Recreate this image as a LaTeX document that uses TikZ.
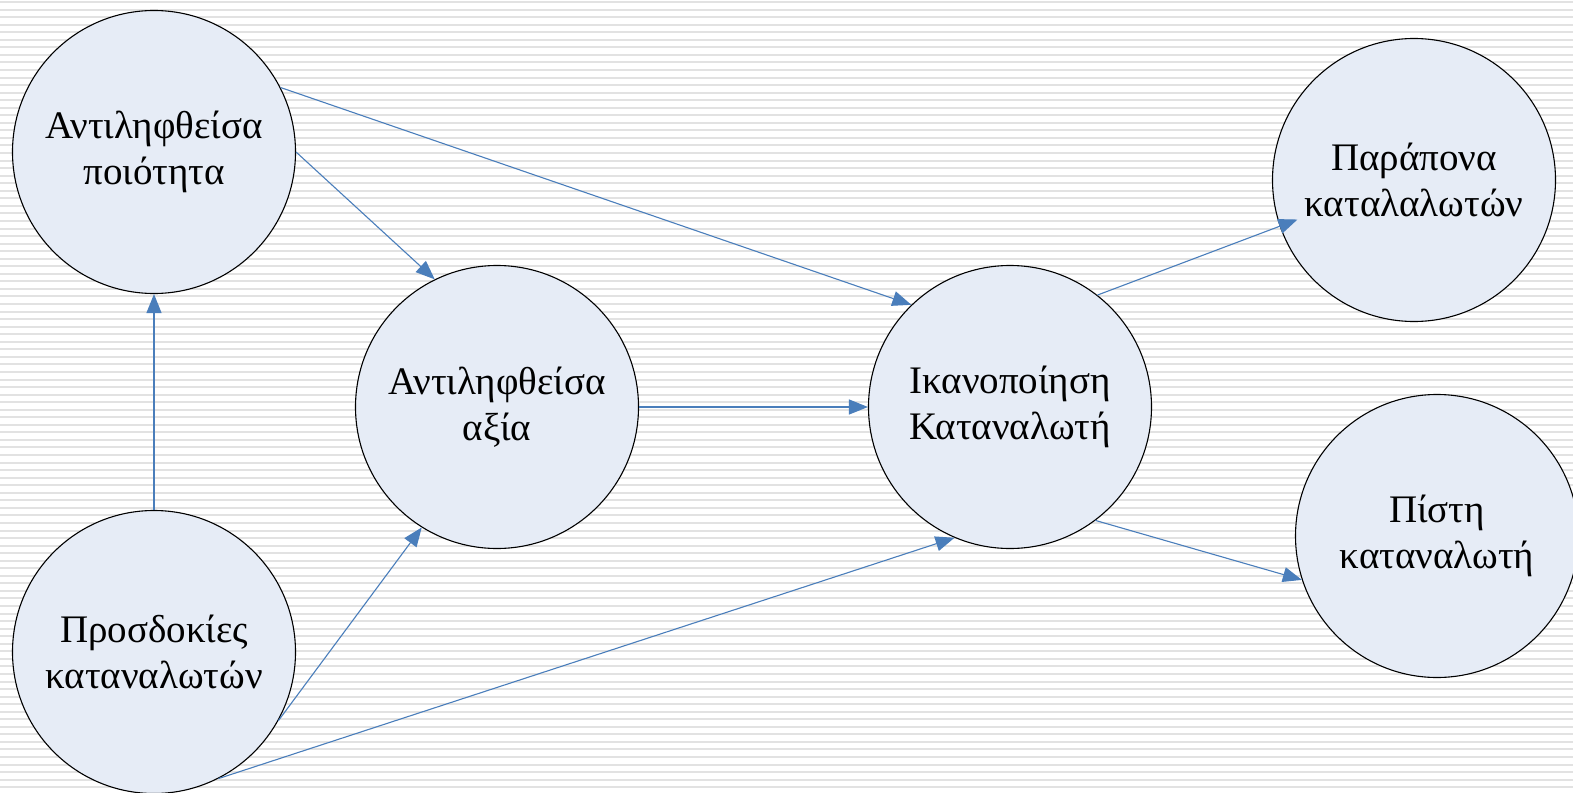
\documentclass[tikz,border=0pt]{standalone}
\usepackage{fontspec}
\setmainfont{Liberation Serif}
\usetikzlibrary{arrows.meta}
\definecolor{bubble}{RGB}{230,236,246}
\definecolor{link}{RGB}{74,126,187}
\definecolor{stripe}{RGB}{226,226,226}
\tikzset{
  bubble/.style={circle,draw=black,line width=1.1pt,fill=bubble,minimum size=283pt,
    inner sep=0pt,align=center,font=\fontsize{39}{46}\selectfont},
  link/.style={draw=link,line width=1.1pt,-{Triangle[length=19pt,width=15pt]}}
}
\begin{document}
\begin{tikzpicture}[x=1pt,y=-1pt]
  \useasboundingbox (0,0) rectangle (1573,792);
  % striped backdrop
  \fill[white] (0,0) rectangle (1573,792);
  \foreach \k in {0,...,104} {
    \fill[stripe] (0,{1+7.55*\k}) rectangle (1573,{3+7.55*\k});
  }
  % concepts
  \node[bubble] (q)   at (154,152)  {Αντιληφθείσα\\ποιότητα};
  \node[bubble] (exp) at (154,652)  {Προσδοκίες\\καταναλωτών};
  \node[bubble] (val) at (497,407)  {Αντιληφθείσα\\αξία};
  \node[bubble] (sat) at (1010,407) {Ικανοποίηση\\Καταναλωτή};
  \node[bubble] (cmp) at (1414,180) {Παράπονα\\καταλαλωτών};
  \node[bubble] (loy) at (1437,536) {Πίστη\\καταναλωτή};
  % relations
  \draw[link] (exp.90)   -- (q.270);
  \draw[link] (q.0)      -- (val.116);
  \draw[link] (q.27)     -- (sat.134);
  \draw[link] (val.0)    -- (sat.180);
  \draw[link] (exp.-29)  -- (val.238);
  \draw[link] (exp.-63)  -- (sat.247);
  \draw[link,shorten >=-19pt] (sat.52) -- (cmp.199);
  \draw[link] (sat.-53)  -- (loy.198);
\end{tikzpicture}
\end{document}
